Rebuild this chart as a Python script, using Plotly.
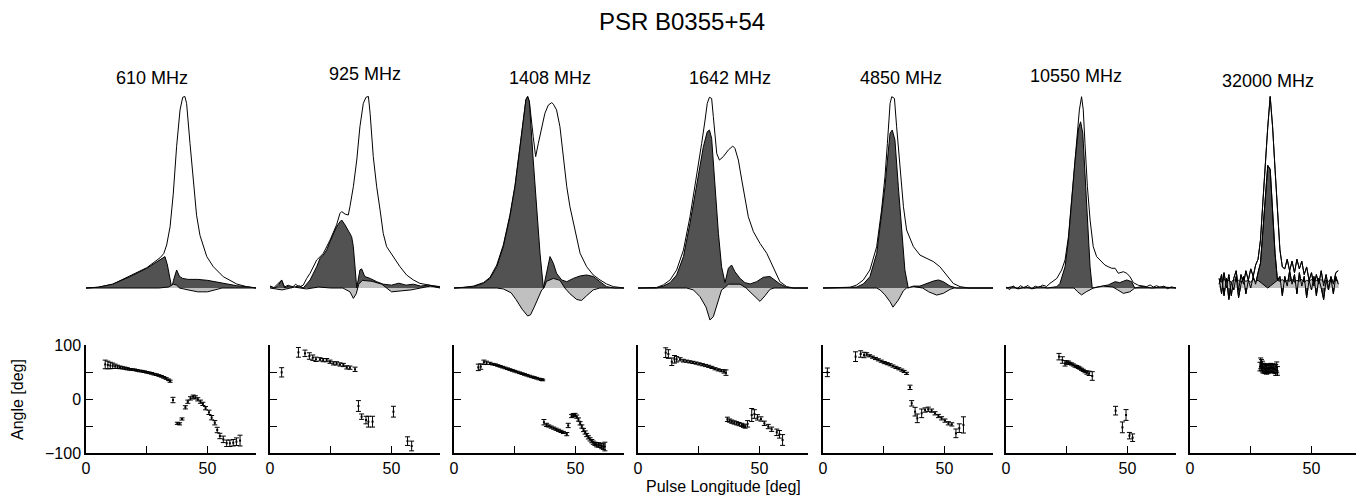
import plotly.graph_objects as go

# ---------------- DATA ----------------
freqs = ["610 MHz", "925 MHz", "1408 MHz", "1642 MHz", "4850 MHz", "10550 MHz", "32000 MHz"]

# 610 MHz
lonI_610 = [0, 5, 11, 18, 25, 30.5, 32, 33.2, 34.6, 35.9, 37.3, 38.7, 39.8, 40.7, 41.4, 42.8, 44.2, 45.5, 46.9, 49.7, 52.4, 56.5, 62, 66, 70]
I_610 = [0, 0.004, 0.02, 0.062, 0.106, 0.158, 0.18, 0.225, 0.32, 0.49, 0.74, 0.93, 0.996, 1.0, 0.964, 0.755, 0.54, 0.38, 0.275, 0.164, 0.111, 0.059, 0.021, 0.007, 0]
lonL_610 = [0, 5, 11, 18, 25, 30.5, 32.5, 33.5, 34.5, 35.3, 36, 37.3, 38.5, 39.8, 42, 46, 50, 56.5, 62, 66, 70]
L_610 = [0, 0.004, 0.02, 0.059, 0.103, 0.15, 0.164, 0.12, 0.05, 0.0, 0.04, 0.094, 0.06, 0.05, 0.045, 0.045, 0.04, 0.024, 0.012, 0.007, 0]
lonV_610 = [0, 30, 34, 36, 37.3, 38.5, 42, 46, 50, 53, 56, 70]
V_610 = [0, 0, 0.005, 0.02, 0.015, 0, -0.01, -0.02, -0.02, -0.01, 0, 0]

# 925 MHz
lonI_925 = [0, 1.5, 3, 4.8, 6, 7.5, 9, 10.5, 12, 13.7, 15.1, 16.5, 19.2, 21.9, 24.7, 27.4, 28.8, 29.5, 30.9, 32.2, 32.9, 34.3, 35.7, 37, 38.4, 39.5, 40.5, 41.2, 42.5, 43.9, 45.3, 46.6, 48, 50.8, 53.5, 56.2, 59, 61.7, 64.5, 67, 70]
I_925 = [0.01, 0.0, 0.02, 0.04, 0.005, 0.015, 0.0, 0.02, 0.005, 0.015, 0.05, 0.077, 0.146, 0.18, 0.25, 0.33, 0.39, 0.399, 0.386, 0.381, 0.425, 0.529, 0.668, 0.842, 0.964, 0.996, 1.0, 0.912, 0.686, 0.529, 0.407, 0.285, 0.216, 0.164, 0.111, 0.068, 0.042, 0.024, 0.016, 0.012, 0.007]
lonL_925 = [0, 2, 3.5, 4.8, 6, 8, 10, 12, 13.7, 16.5, 19.2, 20.6, 21.9, 23.3, 24.7, 26.1, 27.4, 28.8, 29.5, 30.9, 32.2, 33.6, 34.3, 35, 35.7, 37, 37.7, 39, 41.2, 43.9, 46.6, 50, 53, 56, 59, 62, 65, 70]
L_925 = [0.01, 0.0, 0.015, 0.042, 0.0, 0.012, 0.004, 0.012, 0.0, 0.042, 0.111, 0.155, 0.172, 0.198, 0.242, 0.285, 0.32, 0.346, 0.355, 0.329, 0.303, 0.268, 0.216, 0.111, 0.0, 0.094, 0.1, 0.06, 0.05, 0.033, 0.02, 0.015, 0.025, 0.015, 0.02, 0.01, 0.015, 0.005]
lonV_925 = [0, 5, 10, 15, 20, 25, 30, 32.9, 34.3, 35.5, 36.5, 38, 42, 46, 48, 50, 54, 58, 62, 66, 70]
V_925 = [0, -0.01, 0.005, -0.005, 0.005, 0, 0, -0.02, -0.054, -0.03, 0.02, 0.04, 0.035, 0.02, 0.0, -0.02, -0.015, -0.01, 0.0, 0.01, 0]

# 1408 MHz
lonI_1408 = [0, 4, 8, 12.1, 14.8, 17.6, 20.3, 23, 25.1, 27.2, 28.5, 29.6, 30.3, 31, 32.6, 33.6, 34.7, 36.1, 37.4, 38.8, 40.2, 40.9, 42.2, 43.6, 45, 46.4, 47.7, 49.1, 50.5, 51.9, 54.6, 57.3, 60.1, 62.8, 65.6, 70]
I_1408 = [0, 0.003, 0.01, 0.028, 0.055, 0.12, 0.225, 0.38, 0.535, 0.742, 0.88, 0.985, 1.0, 0.975, 0.79, 0.686, 0.755, 0.842, 0.912, 0.955, 0.968, 0.96, 0.93, 0.842, 0.668, 0.529, 0.425, 0.338, 0.251, 0.181, 0.111, 0.068, 0.042, 0.021, 0.007, 0]
lonL_1408 = [0, 8, 12.1, 14.8, 17.6, 20.3, 23, 25.1, 27.2, 28.5, 29.6, 30.3, 31, 32.6, 34, 35.4, 36.8, 38.1, 39.5, 40.9, 42.2, 44.3, 46.4, 49.1, 51.9, 54.6, 57.3, 60.1, 62.8, 66, 70]
L_1408 = [0, 0.007, 0.024, 0.05, 0.111, 0.216, 0.372, 0.529, 0.738, 0.877, 0.982, 1.0, 0.973, 0.668, 0.407, 0.181, 0.0, 0.077, 0.164, 0.129, 0.077, 0.042, 0.033, 0.05, 0.063, 0.068, 0.06, 0.033, 0.007, 0.0, 0]
lonV_1408 = [0, 17.6, 20.3, 23.5, 25.5, 28, 30.3, 31.5, 33, 34.7, 36.1, 37, 38.1, 40.9, 43.6, 45.6, 47.7, 50.5, 52.5, 54.6, 57.3, 60, 70]
V_1408 = [0, 0, -0.005, -0.025, -0.06, -0.11, -0.146, -0.14, -0.1, -0.05, -0.01, 0.0, 0.035, 0.05, 0.04, 0.0, -0.03, -0.06, -0.065, -0.04, -0.01, 0, 0]

# 1642 MHz
lonI_1642 = [0, 7.7, 10.4, 13.2, 15.9, 18.7, 21.4, 24.1, 26.2, 27.6, 28.5, 29.4, 30.3, 31, 32.4, 33.5, 35.1, 37.2, 39, 39.9, 41.3, 42.7, 44, 45.4, 47.5, 50.2, 53, 55.7, 58.4, 61.2, 64, 70]
I_1642 = [0, 0.003, 0.016, 0.042, 0.094, 0.198, 0.372, 0.581, 0.755, 0.877, 0.964, 0.996, 0.99, 0.895, 0.703, 0.668, 0.686, 0.721, 0.741, 0.729, 0.668, 0.564, 0.46, 0.372, 0.294, 0.233, 0.181, 0.103, 0.033, 0.007, 0.0, 0]
lonL_1642 = [0, 7.7, 10.4, 13.2, 15.9, 18.7, 21.4, 24.1, 26.9, 28.5, 29.4, 30.3, 31.7, 33.1, 34.4, 35.8, 37.2, 38.5, 39.9, 42, 44, 46.1, 48.8, 51.6, 54.3, 56.4, 58.4, 61.2, 64, 70]
L_1642 = [0, 0, 0.01, 0.028, 0.068, 0.164, 0.338, 0.529, 0.738, 0.816, 0.825, 0.782, 0.529, 0.285, 0.111, 0.028, 0.103, 0.12, 0.085, 0.05, 0.028, 0.021, 0.033, 0.056, 0.06, 0.042, 0.021, 0.003, 0, 0]
lonV_1642 = [0, 20, 22.8, 25.5, 28, 29.6, 31, 33.1, 34.4, 35.5, 37.2, 42, 44.5, 46.1, 48.8, 50.2, 52.3, 54.3, 56, 70]
V_1642 = [0, 0, -0.01, -0.045, -0.1, -0.167, -0.15, -0.063, -0.01, 0.0, 0.02, 0.02, 0.0, -0.02, -0.054, -0.07, -0.04, -0.007, 0, 0]

# 4850 MHz
lonI_4850 = [0, 11.1, 13.9, 16.6, 19.3, 22.1, 24.1, 25.5, 26.5, 27.6, 28.3, 29.4, 30.3, 31.7, 33.1, 34.4, 37.2, 39.9, 42.7, 45.4, 48.1, 50.9, 53.6, 56.4, 60, 70]
I_4850 = [0, 0.003, 0.016, 0.042, 0.094, 0.216, 0.407, 0.581, 0.755, 0.964, 0.999, 0.99, 0.842, 0.616, 0.425, 0.303, 0.216, 0.172, 0.155, 0.138, 0.111, 0.068, 0.024, 0.007, 0.0, 0]
lonL_4850 = [0, 13.9, 16.6, 19.3, 22.1, 24.1, 25.5, 26.5, 27.6, 28.5, 29.6, 31, 32.4, 33.7, 35.1, 37.2, 39.9, 42.7, 45.4, 47.5, 49.5, 52.3, 55, 70]
L_4850 = [0, 0.005, 0.021, 0.059, 0.181, 0.372, 0.529, 0.668, 0.808, 0.825, 0.773, 0.529, 0.285, 0.094, 0.0, 0.01, 0.01, 0.024, 0.036, 0.042, 0.033, 0.01, 0.0, 0]
lonV_4850 = [0, 22, 23.5, 25.5, 27.6, 28.8, 31, 33.1, 34.4, 37.2, 41, 43.5, 46.8, 49.5, 52.3, 54, 70]
V_4850 = [0, 0, -0.01, -0.036, -0.072, -0.1, -0.063, -0.014, 0, 0.007, 0, -0.02, -0.037, -0.028, -0.007, 0, 0]

# 10550 MHz
lonI_10550 = [0, 1.5, 3, 4.5, 6, 7.5, 9, 10.5, 12, 13.5, 15, 16.7, 18.1, 20.9, 22.9, 24.3, 25.7, 27, 28.4, 29.4, 30.2, 31.1, 31.8, 32.5, 33.5, 34.6, 35.9, 37.3, 38.7, 40.7, 42.1, 43.5, 44.9, 46.2, 48.3, 49.7, 51, 52.4, 54.5, 56, 57.9, 59.3, 60.6, 62, 63.4, 65, 66.5, 68, 70]
I_10550 = [0.005, -0.008, 0.01, -0.004, 0.012, 0.0, 0.014, -0.005, 0.01, 0.002, 0.015, 0.008, 0.024, 0.05, 0.094, 0.146, 0.268, 0.46, 0.668, 0.842, 0.93, 0.999, 0.93, 0.755, 0.529, 0.355, 0.216, 0.164, 0.146, 0.12, 0.111, 0.103, 0.103, 0.077, 0.085, 0.077, 0.059, 0.028, 0.014, 0.01, 0.007, 0.016, 0.005, 0.012, 0.003, 0.01, -0.004, 0.006, 0]
lonL_10550 = [0, 3, 5, 8, 11, 14, 17, 20.9, 22.2, 24.3, 25.7, 27, 28.4, 29.8, 30.7, 31.6, 32.5, 33.5, 34.6, 35.5, 38, 42.1, 44.9, 46.8, 49.7, 51.7, 53, 56, 60, 64, 70]
L_10550 = [0, 0.008, -0.005, 0.006, -0.004, 0.008, 0.0, 0.007, 0.024, 0.111, 0.251, 0.46, 0.66, 0.83, 0.868, 0.808, 0.581, 0.32, 0.111, 0.0, 0.005, 0.016, 0.033, 0.028, 0.042, 0.033, 0.0, 0.008, 0.0, 0.006, 0]
lonV_10550 = [0, 28, 29.5, 31.1, 33, 34.6, 36, 40, 44, 46, 48.3, 51, 53, 70]
V_10550 = [0, 0, -0.02, -0.036, -0.02, -0.01, 0, 0.01, 0.005, -0.01, -0.028, -0.02, 0.0, 0]

# 32000 MHz
lon_32000 = [12, 13, 14, 15, 16, 17, 18, 19, 20, 21, 22, 23, 24, 25, 26, 27, 28, 29, 30, 31, 32, 33, 34, 35, 36, 37, 38, 39, 40, 41, 42, 43, 44, 45, 46, 47, 48, 49, 50, 51, 52, 53, 54, 55, 56, 57, 58, 59, 60, 61]
I_32000 = [0.05, -0.03, 0.08, 0.0, 0.07, -0.04, 0.05, 0.09, -0.01, 0.07, 0.02, 0.09, 0.04, 0.1, 0.06, 0.12, 0.15, 0.25, 0.45, 0.68, 0.84, 1.0, 0.84, 0.62, 0.39, 0.2, 0.11, 0.1, 0.15, 0.09, 0.14, 0.08, 0.15, 0.1, 0.14, 0.07, 0.11, 0.04, 0.08, 0.01, 0.07, 0.02, 0.09, 0.01, 0.07, 0.0, 0.06, 0.02, 0.08, 0.09]
L_32000 = [0.02, 0.07, -0.04, 0.05, -0.06, 0.03, -0.01, 0.06, -0.05, 0.02, 0.06, -0.03, 0.04, 0.0, 0.06, 0.02, 0.08, 0.13, 0.3, 0.5, 0.64, 0.62, 0.4, 0.18, 0.04, 0.06, -0.04, 0.06, 0.01, 0.09, 0.02, 0.07, -0.03, 0.08, 0.01, 0.06, -0.05, 0.04, -0.01, 0.06, -0.04, 0.05, 0.0, -0.06, 0.04, -0.01, 0.05, -0.03, 0.06, 0.02]
V_32000 = [0.04, 0.03, 0.045, 0.035, 0.04, 0.03, 0.045, 0.035, 0.04, 0.03, 0.045, 0.035, 0.04, 0.03, 0.045, 0.035, 0.04, 0.03, 0.02, 0.01, 0.0, 0.01, 0.02, 0.03, 0.04, 0.035, 0.045, 0.03, 0.04, 0.035, 0.045, 0.03, 0.04, 0.035, 0.045, 0.03, 0.04, 0.035, 0.045, 0.03, 0.04, 0.035, 0.045, 0.03, 0.04, 0.035, 0.045, 0.03, 0.04, 0.035]

# Position angles [deg] with errors
lonPA_610 = [7.9, 9, 10, 11, 12, 13, 14, 15, 16, 17, 18, 19, 20, 21, 22, 23, 24, 25, 26, 27, 28, 29, 30, 31, 32, 33, 34, 34.6, 35.8, 37.6, 38.5, 39.5, 40.9, 41.9, 43, 44.1, 45, 46, 47.1, 48.1, 49.2, 50.6, 51.7, 53, 54, 55.1, 56.5, 57.9, 59.2, 60.6, 61.9, 63.4]
pa_610 = [64, 63, 62, 61.5, 60.5, 59.5, 58.6, 57.8, 57, 56, 55, 54.5, 54, 53, 52, 51.5, 50.6, 49.5, 48.5, 47.5, 46, 45, 43.5, 42, 40, 38, 35.5, 33, -1.9, -45, -46, -37, -15.4, -5, 1.2, 4.3, 3, -0.6, -5, -9, -17, -24.7, -34.6, -44, -57.4, -68.5, -74.7, -82, -82, -81, -79, -77]
err_610 = [8, 7, 6, 5, 4, 3, 2.5, 2, 2, 2,
           1.5, 1.5, 1.5, 1.5, 1.5, 1.5, 1.5, 1.5, 1.5, 1.5,
           1.5, 1.5, 1.5, 1.5, 1.5, 1.5, 1.5, 2, 5, 2,
           2, 2, 3, 3, 3, 3, 3, 3, 3, 3,
           3, 4, 4, 4, 5, 5, 6, 6, 6, 6,
           7, 10]

lonPA_925 = [4.8, 11.7, 14.4, 16.2, 17.6, 18.9, 20.6, 21.9, 23.3, 24.7, 26.1, 27.4, 28.8, 30.2, 31.6, 32.9, 35, 36.4, 37.7, 39.5, 40.5, 42.2, 50.8, 56.6, 58.3]
pa_925 = [49.4, 86.4, 84.6, 79.6, 76.5, 73.5, 73.5, 72, 72, 69, 66, 66, 64, 63, 58.6, 58, 55, -13, -32.7, -39, -42, -42, -23.5, -78, -87]
err_925 = [8.6, 9, 6, 6, 5, 4, 3, 3, 3, 3, 3, 3, 3, 3, 3, 3, 4, 10, 5, 7, 10, 10, 10, 8, 9]

lonPA_1408 = [10, 11, 12.3, 13.4, 14.8, 16, 17, 18, 19, 20, 21, 22, 23, 24, 25, 26, 27, 28, 29, 30, 31, 32, 33, 34, 35, 36, 36.5, 37, 38.1, 39, 40, 41, 42, 43, 44, 45, 46.4, 47, 48.4, 49.1, 49.8, 50.5, 51.2, 51.9, 52.6, 53.3, 54, 54.6, 55.3, 56, 56.7, 57.3, 58, 58.7, 59.4, 60.1, 60.8, 61.5, 62.1]
pa_1408 = [58.6, 60, 68, 67, 66, 64.5, 63.5, 62, 60.5, 59, 57.5, 56, 54.5, 53, 51.5, 50, 48.5, 47, 45.5, 44, 42.5, 41, 39.8, 38.5, 37, 36, 35.2, -43, -48, -50, -52, -54, -56, -58, -60, -62, -65, -49, -31.5, -30, -29.6, -32.7, -38, -45, -51, -57.4, -62, -66.7, -71, -74.7, -78, -80.9, -83, -84.6, -85, -85.8, -87, -88.3, -88]
err_1408 = [6, 5, 4, 3, 2,
            1.5, 1.5, 1.5, 1.5, 1.5, 1.5, 1.5, 1.5, 1.5, 1.5, 1.5,
            1.5, 1.5, 1.5, 1.5, 1.5, 1.5, 1.5, 1.5, 1.5, 1.5, 1.5,
            5, 3, 2, 2, 2, 2, 2, 2, 2, 3, 4,
            3, 3, 3, 3, 3, 3, 3, 3, 3, 3, 3, 3, 3, 3, 3,
            4, 4, 4, 5, 5, 8]

lonPA_1642 = [11.4, 12.5, 13.9, 15, 15.9, 17.3, 18.7, 20, 21.3, 22.6, 23.9, 25.2, 26.5, 27.8, 29.1, 30.4, 31.7, 33, 34.3, 35.4, 36.2, 36.8, 37.7, 38.6, 39.6, 40.6, 41.6, 42.7, 43.4, 44.1, 45.1, 46.8, 47.9, 49.2, 50.6, 52, 53.6, 55, 57.1, 58.2, 59.5]
pa_1642 = [85.8, 83.3, 69, 73.5, 73.5, 73.5, 71, 70, 68.8, 67.8, 66.5, 65, 63.5, 62, 60.5, 58.5, 56, 54, 52.5, 51, 48.8, -37.7, -40, -42, -43.5, -45, -46.5, -48, -49.5, -51, -46, -29.6, -27.8, -34, -37, -45, -51, -56, -61.7, -65.4, -75.9]
err_1642 = [9, 8, 7, 7, 5, 3, 2.5, 2, 2, 2, 2, 2, 2, 2, 2, 2, 2, 2, 2, 3, 5, 4, 3, 3, 3, 3, 3, 3, 3, 3, 6, 12, 8, 5, 4, 4, 4, 4, 6, 7, 10]

lonPA_4850 = [1.8, 13.4, 15.5, 16.9, 18, 19.2, 20.4, 21.6, 22.8, 24, 25.2, 26.4, 27.6, 28.8, 30, 31.2, 32.4, 33.4, 34.4, 35.8, 36.5, 37.9, 38.8, 40.6, 42, 43.3, 44.7, 46.1, 47.5, 48.8, 50.2, 51.6, 53, 54.7, 56.1, 57.8]
pa_4850 = [49.4, 78.4, 83.3, 81.5, 82.7, 80, 77.5, 75, 72.5, 70, 67.5, 65.5, 63.5, 61, 58.5, 56, 53.5, 51, 47.5, 21.6, -8, -23.5, -35.8, -26.5, -20.4, -19, -21.6, -26.5, -31.5, -35.8, -40, -45, -47, -63.6, -54, -48]
err_4850 = [8, 9, 6, 5, 3, 2, 2, 2, 2, 2, 2, 2, 2, 2, 2, 2, 2, 2, 2, 4, 5, 8, 8, 8, 4, 4, 3, 3, 3, 3, 3, 3, 3, 8, 8, 15]

lonPA_10550 = [21.8, 23.2, 24.3, 25, 25.7, 26.3, 27, 27.7, 28.4, 29.1, 29.8, 30.4, 31.1, 31.8, 32.5, 33.3, 34.2, 35.5, 45.1, 47.9, 49.4, 50.8, 52.1]
pa_10550 = [78.4, 72.2, 66, 67.5, 67.3, 66, 64.8, 63, 61, 60, 58.6, 57, 55, 53, 50.6, 49, 47.5, 42.6, -21.6, -52.5, -29.6, -67.9, -71.6]
err_10550 = [6, 6, 5, 3, 3, 2, 2, 2, 2, 2, 2, 2, 2, 2, 2, 3, 4, 8, 8, 10, 10, 6, 7]

lonPA_32000 = [28.8, 29.1, 29.4, 29.8, 30.1, 30.5, 30.8, 31.1, 31.5, 31.8, 32.2, 32.5, 32.9, 33.2, 33.6, 33.9, 34.3, 34.6, 35, 35.3, 35.7, 36]
pa_32000 = [60, 66, 63, 60, 57, 58, 55, 56, 54, 57, 55, 58, 56, 59, 57, 58, 56, 57, 55, 53.7, 58.6, 52]
err_32000 = [8, 10, 10, 10, 9, 8, 8, 8, 8, 8, 8, 7, 7, 7, 7, 7, 8, 8, 8, 10, 10, 8]

profiles = [
    (lonI_610, I_610, lonL_610, L_610, lonV_610, V_610),
    (lonI_925, I_925, lonL_925, L_925, lonV_925, V_925),
    (lonI_1408, I_1408, lonL_1408, L_1408, lonV_1408, V_1408),
    (lonI_1642, I_1642, lonL_1642, L_1642, lonV_1642, V_1642),
    (lonI_4850, I_4850, lonL_4850, L_4850, lonV_4850, V_4850),
    (lonI_10550, I_10550, lonL_10550, L_10550, lonV_10550, V_10550),
    (lon_32000, I_32000, lon_32000, L_32000, lon_32000, V_32000),
]
angles = [
    (lonPA_610, pa_610, err_610),
    (lonPA_925, pa_925, err_925),
    (lonPA_1408, pa_1408, err_1408),
    (lonPA_1642, pa_1642, err_1642),
    (lonPA_4850, pa_4850, err_4850),
    (lonPA_10550, pa_10550, err_10550),
    (lonPA_32000, pa_32000, err_32000),
]
for p in profiles:
    assert len(p[0]) == len(p[1]) and len(p[2]) == len(p[3]) and len(p[4]) == len(p[5])
for a in angles:
    assert len(a[0]) == len(a[1]) == len(a[2]), len(a[0])

# ---------------- LAYOUT ----------------
W, H = 1364, 497
OX, OY = 8, 8          # page body margin offsets the figure on screen


def px_x(x):
    return (x - OX) / W


def px_y(y):
    return 1 - (y - OY) / H


panel_left = [86, 270, 454, 638, 823, 1006, 1190]
panel_w = 170.1
title_pos = [(152, 78), (365, 74), (550, 78), (730, 78), (901, 78), (1076, 76), (1268, 81)]

DARK = "#525252"
LIGHT = "#c0c0c0"
FONT = "Liberation Sans, Arial, Helvetica, sans-serif"

fig = go.Figure()
layout = dict(width=W, height=H, margin=dict(l=0, r=0, t=0, b=0, autoexpand=False),
              paper_bgcolor="white", plot_bgcolor="white", showlegend=False,
              font=dict(family=FONT, color="black"))

top_dom = [px_y(288 + 191.5 * 0.25), px_y(288 - 191.5 * 1.05)]
bot_dom = [px_y(453), px_y(345)]

annotations = []
for k in range(7):
    xd = [px_x(panel_left[k]), px_x(panel_left[k] + panel_w)]
    it = k + 1
    ib = k + 8
    xn_t = "xaxis" if it == 1 else f"xaxis{it}"
    yn_t = "yaxis" if it == 1 else f"yaxis{it}"
    layout[xn_t] = dict(domain=xd, range=[0, 70], visible=False, automargin=False,
                        anchor=f"y{'' if it == 1 else it}")
    layout[yn_t] = dict(domain=top_dom, range=[-0.25, 1.05], visible=False, automargin=False,
                        anchor=f"x{'' if it == 1 else it}")
    layout[f"xaxis{ib}"] = dict(domain=xd, range=[0, 70], anchor=f"y{ib}", showline=True, linecolor="black",
                                linewidth=1.5, ticks="inside", ticklen=7, tickwidth=1, tickcolor="black",
                                tickvals=[0, 25, 50], ticktext=["0", "", "50"], showgrid=False, zeroline=False,
                                automargin=False,
                                tickfont=dict(size=16, family=FONT, color="black"))
    layout[f"yaxis{ib}"] = dict(domain=bot_dom, range=[-100, 100], anchor=f"x{ib}", showline=True,
                                linecolor="black", linewidth=1.5, ticks="inside", ticklen=7, tickwidth=1,
                                tickcolor="black", tickvals=[-100, -50, 0, 50, 100],
                                ticktext=["\u2212100", "", "0", "", "100"], showticklabels=(k == 0),
                                showgrid=False, zeroline=False, automargin=False,
                                tickfont=dict(size=16, family=FONT, color="black"))

    xr = "x" if it == 1 else f"x{it}"
    yr = "y" if it == 1 else f"y{it}"
    lI, I, lL, L, lV, V = profiles[k]
    fig.add_trace(go.Scatter(x=lI, y=I, mode="lines", line=dict(color="black", width=1),
                             fill="tozeroy", fillcolor="white", xaxis=xr, yaxis=yr))
    fig.add_trace(go.Scatter(x=lL, y=L, mode="lines", line=dict(color="black", width=1),
                             fill="tozeroy", fillcolor=DARK, xaxis=xr, yaxis=yr))
    fig.add_trace(go.Scatter(x=lV, y=V, mode="lines", line=dict(color="black", width=1),
                             fill="tozeroy", fillcolor=LIGHT, xaxis=xr, yaxis=yr))
    if k == 6:
        # noisy high-frequency profile: the I and L outlines stay visible over the V band
        fig.add_trace(go.Scatter(x=lI, y=I, mode="lines", line=dict(color="black", width=1),
                                 xaxis=xr, yaxis=yr))
        fig.add_trace(go.Scatter(x=lL, y=L, mode="lines", line=dict(color="black", width=1),
                                 xaxis=xr, yaxis=yr))

    la, pa, er = angles[k]
    fig.add_trace(go.Scatter(x=la, y=pa, mode="markers",
                             marker=dict(size=2, color="black", symbol="square"),
                             error_y=dict(type="data", array=er, visible=True, color="black",
                                          thickness=1, width=2.5),
                             xaxis=f"x{ib}", yaxis=f"y{ib}"))

    tx, ty = title_pos[k]
    annotations.append(dict(text=freqs[k], x=px_x(tx), y=px_y(ty), xref="paper", yref="paper",
                            showarrow=False, xanchor="center", yanchor="middle",
                            font=dict(size=18, family=FONT, color="black")))

annotations.append(dict(text="PSR B0355+54", x=px_x(682), y=px_y(22), xref="paper", yref="paper",
                        showarrow=False, xanchor="center", yanchor="middle",
                        font=dict(size=24, family=FONT, color="black")))
annotations.append(dict(text="Angle [deg]", x=px_x(17), y=px_y(400), xref="paper", yref="paper",
                        showarrow=False, xanchor="center", yanchor="middle", textangle=-90,
                        font=dict(size=16, family=FONT, color="black")))
annotations.append(dict(text="Pulse Longitude [deg]", x=px_x(723), y=px_y(486), xref="paper", yref="paper",
                        showarrow=False, xanchor="center", yanchor="middle",
                        font=dict(size=16, family=FONT, color="black")))
layout["annotations"] = annotations

fig.update_layout(**layout)
fig.write_html("out.html")
